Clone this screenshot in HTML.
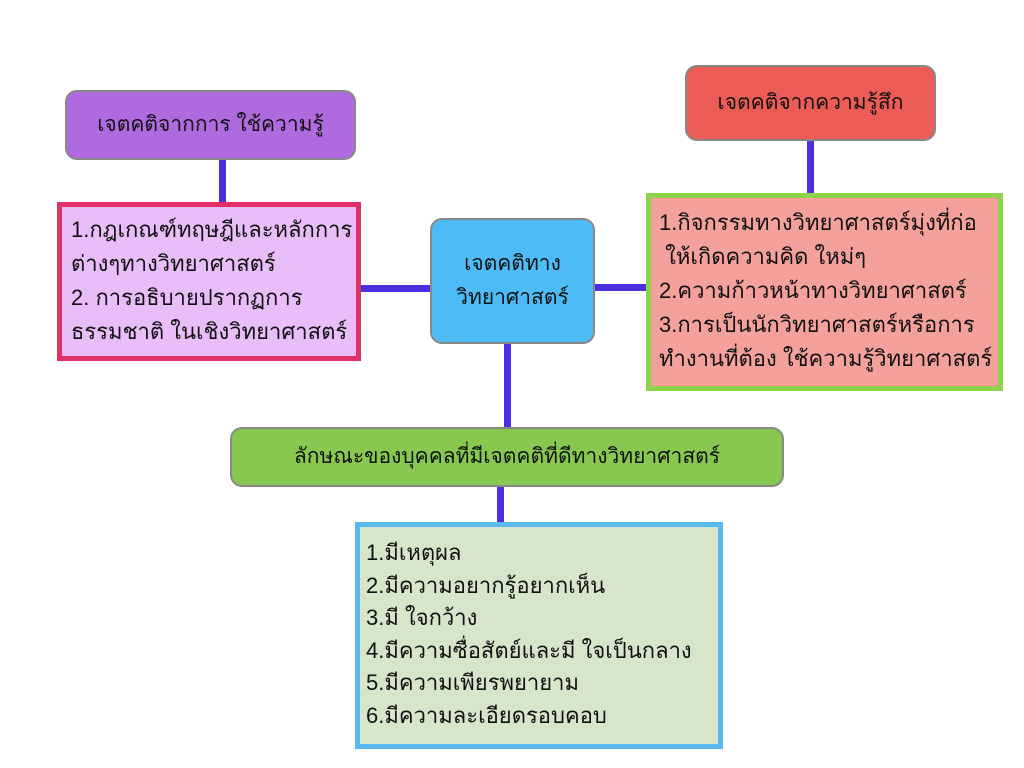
<!DOCTYPE html>
<html><head><meta charset="utf-8"><style>
body{margin:0;width:1024px;height:768px;background:#fff;position:relative;overflow:hidden;font-family:"Liberation Sans","DejaVu Sans","Noto Sans CJK JP",sans-serif;color:#111}
div{position:absolute;box-sizing:border-box}
.c{background:#4b30e0}
.t{font-size:22px;line-height:34px;white-space:nowrap}
.h{display:flex;align-items:center;justify-content:center;text-align:center;border:2px solid #888;border-radius:12px;font-size:21px;line-height:34px}
</style></head><body>
<div class="c" style="left:219px;top:158px;width:7px;height:46px"></div>
<div class="c" style="left:360px;top:285px;width:72px;height:7px"></div>
<div class="c" style="left:594px;top:284px;width:54px;height:7px"></div>
<div class="c" style="left:807px;top:139px;width:7px;height:56px"></div>
<div class="c" style="left:504px;top:342px;width:7px;height:86px"></div>
<div class="c" style="left:497px;top:485px;width:7px;height:38px"></div>

<div class="h" style="left:65px;top:90px;width:291px;height:70px;background:#b06ae0">เจตคติจากการ ใช้ความรู้</div>
<div class="h" style="left:685px;top:65px;width:251px;height:76px;background:#ea5c55">เจตคติจากความรู้สึก</div>
<div class="h" style="left:430px;top:218px;width:165px;height:126px;background:#4dbcf6">เจตคติทาง<br>วิทยาศาสตร์</div>
<div class="h" style="left:230px;top:427px;width:554px;height:60px;background:#88c750">ลักษณะของบุคคลที่มีเจตคติที่ดีทางวิทยาศาสตร์</div>

<div class="t" style="left:57px;top:202px;width:304px;height:159px;background:#e8bdf8;border:5px solid #e0306a;padding:6px 0 0 9px">1.กฎเกณฑ์ทฤษฎีและหลักการ<br>ต่างๆทางวิทยาศาสตร์<br>2. การอธิบายปรากฏการ<br>ธรรมชาติ ในเชิงวิทยาศาสตร์</div>
<div class="t" style="left:646px;top:193px;width:357px;height:198px;background:#f4a19c;border:5px solid #8cd44a;padding:8px 0 0 8px">1.กิจกรรมทางวิทยาศาสตร์มุ่งที่ก่อ<br>&nbsp;ให้เกิดความคิด ใหม่ๆ<br>2.ความก้าวหน้าทางวิทยาศาสตร์<br>3.การเป็นนักวิทยาศาสตร์หรือการ<br>ทำงานที่ต้อง ใช้ความรู้วิทยาศาสตร์</div>
<div class="t" style="left:355px;top:522px;width:368px;height:227px;background:#d7e6cb;border:5px solid #5ab9f0;padding:10px 0 0 6px;line-height:32.5px">1.มีเหตุผล<br>2.มีความอยากรู้อยากเห็น<br>3.มี ใจกว้าง<br>4.มีความซื่อสัตย์และมี ใจเป็นกลาง<br>5.มีความเพียรพยายาม<br>6.มีความละเอียดรอบคอบ</div>
</body></html>
